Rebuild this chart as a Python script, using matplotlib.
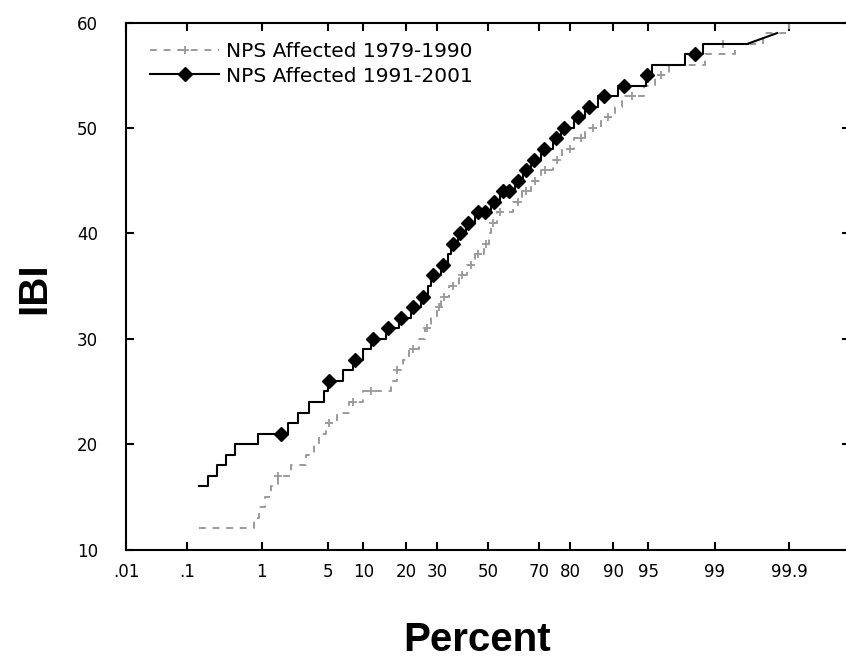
from statistics import NormalDist
import matplotlib
matplotlib.use("Agg")
import matplotlib.pyplot as plt
import numpy as np

# step levels: percent where each IBI level starts
gray_pct = [0.15, 0.80, 0.94, 1.10, 1.30, 1.55, 2.16, 3.09, 3.70, 4.13, 4.80,
            6.05, 7.65, 9.9, 15.9, 17.5, 19.1, 20.8, 23.9, 25.8, 27.8, 29.9,
            31.4, 34.3, 38.2, 41.3, 44.5, 48.2, 50.2, 51.1, 53.5, 60.0, 63.5,
            66.9, 70.5, 74.6, 77.5, 81.2, 83.9, 87.6, 90.4, 91.6, 94.5, 95.7,
            96.8, 98.71, 99.44, 99.76, 99.90, 99.93]
gray_ibi = list(range(12, 61)) + [60]

gray_mark_pct = [1.55, 5.1, 8.3, 11.4, 17.5, 22.0, 26.5, 30.5, 32.5, 36.0, 39.5,
                 43.0, 46.0, 49.0, 52.0, 55.0, 62.0, 65.0, 68.5, 72.0, 76.0,
                 80.0, 83.0, 86.0, 89.0, 93.0, 96.2, 99.2]
gray_mark_ibi = [17, 22, 24, 25, 27, 29, 31, 33, 34, 35, 36, 37, 38, 39, 41,
                 42, 43, 44, 45, 46, 47, 48, 49, 50, 51, 53, 55, 58]

black_pct = [0.15, 0.20, 0.27, 0.36, 0.46, 0.91, 1.99, 2.55, 3.30, 4.6, 5.0,
             6.8, 8.3, 9.9, 11.4, 14.7, 18.0, 21.4, 24.5, 26.8, 27.8, 31.4,
             33.9, 35.1, 37.8, 40.9, 44.5, 51.1, 54.7, 60.7, 63.8, 66.9, 70.5,
             74.6, 77.2, 81.0, 84.1, 87.1, 90.9, 94.7, 95.4, 97.85, 98.64,
             99.62]
black_ibi = list(range(16, 59)) + [58]
# last bit of the black curve is a plain slope, not a step
black_tail_pct = [99.62, 99.85]
black_tail_ibi = [58, 59]

black_mark_pct = [1.65, 5.12, 8.57, 11.8, 15.2, 18.5, 22.0, 25.1, 28.5, 32.1,
                  35.8, 38.6, 41.7, 45.7, 48.6, 52.3, 56.0, 58.4, 61.9, 65.0,
                  68.0, 71.6, 75.6, 78.1, 82.1, 84.9, 88.2, 91.8, 94.9, 98.3]
black_mark_ibi = [21, 26, 28, 30, 31, 32, 33, 34, 36, 37, 39, 40, 41, 42, 42,
                  43, 44, 44, 45, 46, 47, 48, 49, 50, 51, 52, 53, 54, 55, 57]

xticks = [0.01, 0.1, 1, 5, 10, 20, 30, 50, 70, 80, 90, 95, 99, 99.9]
xlabels = [".01", ".1", "1", "5", "10", "20", "30", "50", "70", "80", "90",
           "95", "99", "99.9"]

_nd = NormalDist()
_ppf = np.vectorize(_nd.inv_cdf, otypes=[float])
_cdf = np.vectorize(_nd.cdf, otypes=[float])


def to_z(p):  # percent -> normal quantile
    p = np.clip(np.asarray(p, dtype=float), 1e-7, 100 - 1e-7)
    return _ppf(p / 100.0)


def to_p(z):
    return 100.0 * _cdf(np.asarray(z, dtype=float))


fig = plt.figure(figsize=(8.46, 6.62), dpi=100)
ax = fig.add_axes([0.1489, 0.1699, 0.8563, 0.7961])
ax.set_xscale("function", functions=(to_z, to_p))

gcol = "#9a9a9a"
ax.plot(gray_pct, gray_ibi, drawstyle="steps-post", color=gcol, lw=1.4,
        ls=(0, (3.5, 3.5)))
ax.plot(gray_mark_pct, gray_mark_ibi, ls="none", marker="+", ms=6, mew=1.3,
        color=gcol)
ax.plot(black_pct, black_ibi, drawstyle="steps-post", color="black", lw=1.5)
ax.plot(black_tail_pct, black_tail_ibi, color="black", lw=1.5)
ax.plot(black_mark_pct, black_mark_ibi, ls="none", marker="D", ms=7.5,
        color="black")

h1, = ax.plot([], [], color=gcol, lw=1.4, ls=(0, (3.5, 3.5)), marker="+",
              ms=6, mew=1.3)
h2, = ax.plot([], [], color="black", lw=1.5, marker="D", ms=7)
ax.legend([h1, h2], ["NPS Affected 1979-1990", "NPS Affected 1991-2001"],
          loc="upper left", bbox_to_anchor=(0.017, 0.985), frameon=False,
          fontsize=14.5, handlelength=3.4, labelspacing=0.25, handletextpad=0.35,
          borderaxespad=0.2)

ax.set_xlim(0.01, 99.99)
ax.set_ylim(10, 60)
ax.xaxis.set_major_locator(matplotlib.ticker.FixedLocator(xticks))
ax.xaxis.set_major_formatter(matplotlib.ticker.FixedFormatter(xlabels))
ax.xaxis.set_minor_locator(matplotlib.ticker.NullLocator())
ax.set_yticks([10, 20, 30, 40, 50, 60])

ax.tick_params(direction="in", length=6, width=1.5, top=True, right=True,
               labelsize=12)
ax.tick_params(axis="y", pad=20)
ax.tick_params(axis="x", pad=10)
for s in ax.spines.values():
    s.set_linewidth(1.5)

fig.text(0.040, 0.565, "IBI", rotation=90, ha="center", va="center",
         fontsize=29, fontweight="bold", family="Liberation Sans")
fig.text(0.564, 0.033, "Percent", ha="center", va="center", fontsize=29,
         fontweight="bold", family="Liberation Sans")

fig.savefig("out.png", dpi=100)
